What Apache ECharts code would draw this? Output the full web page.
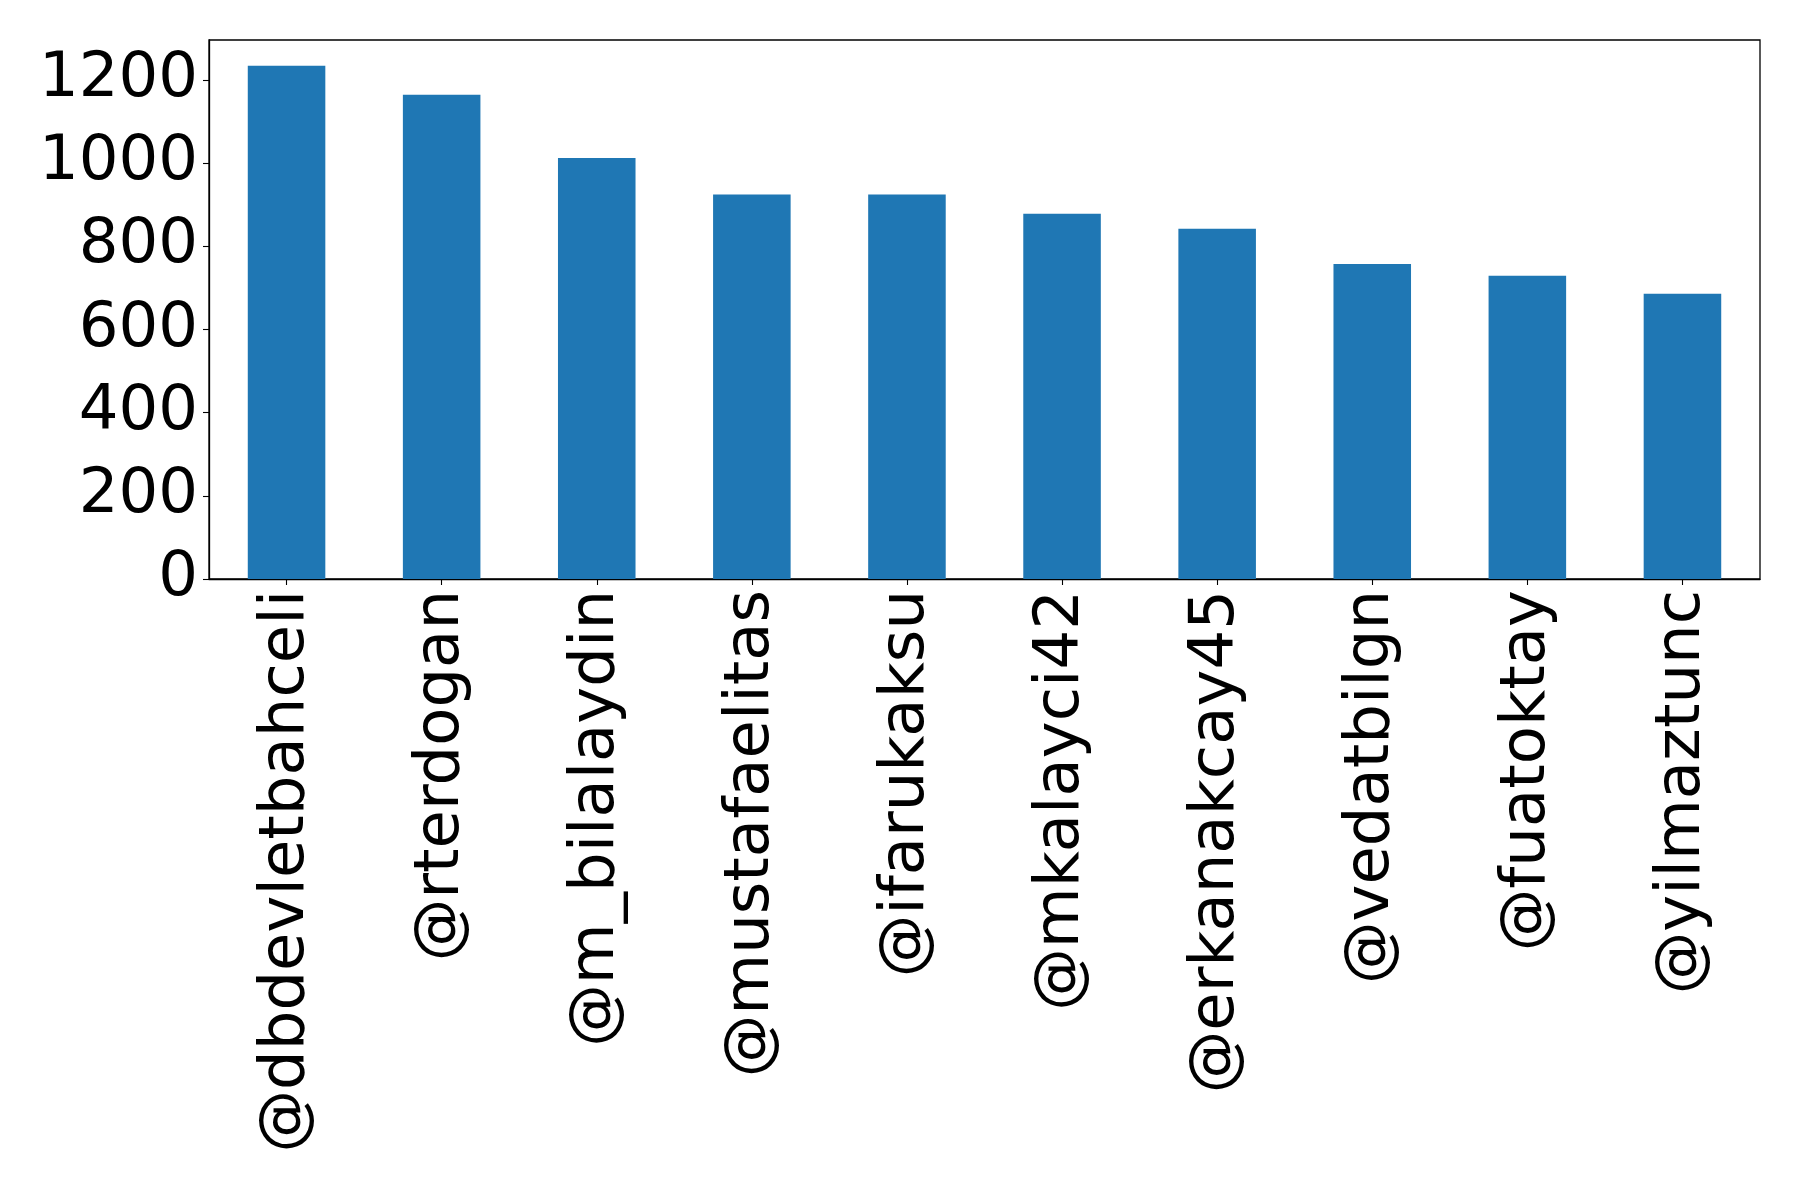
<!DOCTYPE html>
<html>
<head>
<meta charset="utf-8">
<script src="https://cdn.jsdelivr.net/npm/echarts@6/dist/echarts.min.js"></script>
<style>
html,body{margin:0;padding:0;background:#fff;}
#chart{width:1798px;height:1191px;}
</style>
</head>
<body>
<div id="chart"></div>
<script>
const categories = ['@dbdevletbahceli','@rterdogan','@m_bilalaydin','@mustafaelitas','@ifarukaksu','@mkalayci42','@erkanakcay45','@vedatbilgn','@fuatoktay','@yilmaztunc'];
const values = [1234, 1164, 1012, 924, 924, 878, 842, 757, 729, 686];
const yTicks = [0, 200, 400, 600, 800, 1000, 1200];

const chart = echarts.init(document.getElementById('chart'), null, {renderer:'canvas'});
const font = 'DejaVu Sans';
chart.setOption({
  animation: false,
  backgroundColor: '#ffffff',
  grid: {left: 209, right: 38, top: 40, bottom: 612, show: true, borderColor: '#000', borderWidth: 1.3, backgroundColor: 'transparent'},
  xAxis: {
    type: 'category',
    data: categories,
    boundaryGap: true,
    axisLine: {show: true, lineStyle: {color: '#000', width: 1.3}},
    axisTick: {show: true, alignWithLabel: true, length: 6, lineStyle: {color: '#000', width: 1.1}},
    axisLabel: {rotate: 90, interval: 0, color: '#000', fontFamily: font, fontSize: 62.5, margin: 11}
  },
  yAxis: {
    type: 'value',
    min: 0,
    max: Math.max(...values) * 1.05,
    interval: 200,
    splitLine: {show: false},
    axisLine: {show: true, lineStyle: {color: '#000', width: 1.3}},
    axisTick: {show: true, length: 6, lineStyle: {color: '#000', width: 1.1}},
    axisLabel: {
      color: '#000', fontFamily: font, fontSize: 62.5, margin: 11,
      showMaxLabel: false,
      formatter: v => yTicks.includes(v) ? String(v) : ''
    }
  },
  series: [{
    type: 'bar',
    data: values,
    barWidth: '50%',
    itemStyle: {color: '#1f77b4'}
  }]
});
</script>
</body>
</html>
